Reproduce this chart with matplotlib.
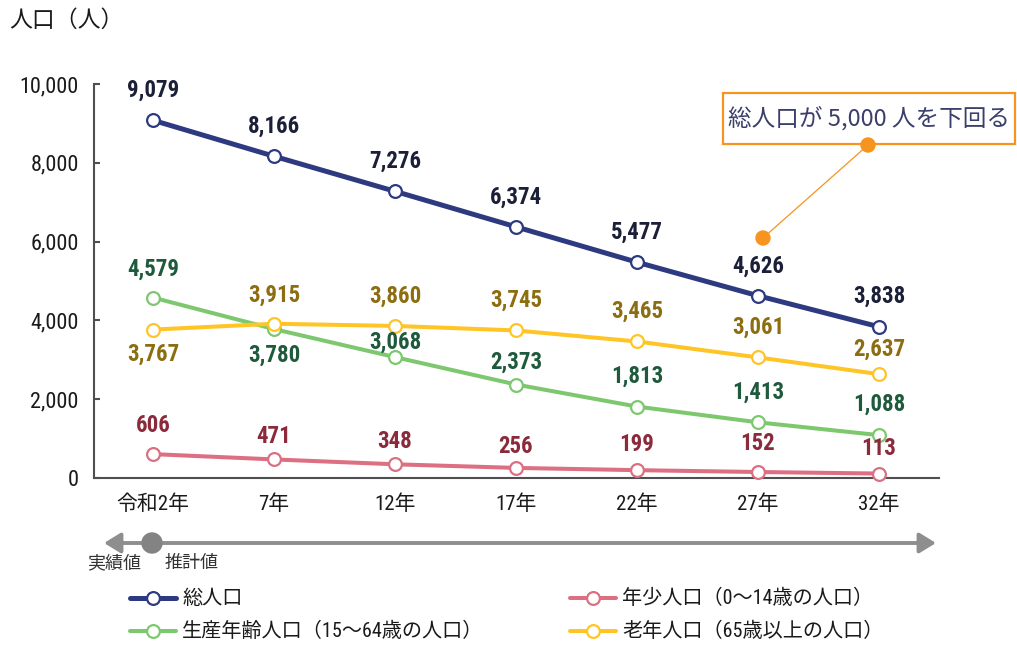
import matplotlib
matplotlib.use("Agg")
import matplotlib.pyplot as plt
from matplotlib.patches import Rectangle, Circle, FancyArrowPatch

# ---------------- data ----------------
categories = ['令和2年', '7年', '12年', '17年', '22年', '27年', '32年']
total = [9079, 8166, 7276, 6374, 5477, 4626, 3838]
working = [4579, 3780, 3068, 2373, 1813, 1413, 1088]
young = [606, 471, 348, 256, 199, 152, 113]
elderly = [3767, 3915, 3860, 3745, 3465, 3061, 2637]
yticks = [0, 2000, 4000, 6000, 8000, 10000]

series_names = ['総人口', '生産年齢人口（15～64歳の人口）', '年少人口（0～14歳の人口）', '老年人口（65歳以上の人口）']

# label vertical offsets (pixels, +up)
off_total = [30, 30, 30, 30, 30, 29, 31]
off_working = [28, -26, 15, 22, 30, 30, 31]
off_young = [29, 23, 23, 21, 26, 29, 25]
off_elderly = [-25, 28, 30, 30, 30, 30, 25]

NAVY, NAVY_T = '#2D3A80', '#1B1F38'
GREEN, GREEN_T = '#7DC86F', '#1F5A3C'
PINK, PINK_T = '#DC6F82', '#8A2A3A'
YEL, YEL_T = '#FFC526', '#8C6D10'
ORANGE = '#F7941D'

FAM = ['Roboto Condensed', 'Noto Sans CJK JP', 'DejaVu Sans']
CJK = ['Noto Sans CJK JP', 'DejaVu Sans']
plt.rcParams['font.family'] = FAM

W, H = 1017, 646
fig = plt.figure(figsize=(W / 100, H / 100), dpi=100)
ax = fig.add_axes([94 / W, (H - 478) / H, 845 / W, 394 / H])

x = list(range(len(categories)))
series = [
    (young, PINK, PINK_T, 2.9, off_young),
    (working, GREEN, GREEN_T, 2.9, off_working),
    (elderly, YEL, YEL_T, 2.9, off_elderly),
    (total, NAVY, NAVY_T, 3.6, off_total),
]
for z, (vals, c, tc, lw, offs) in enumerate(series):
    ax.plot(x, vals, color=c, lw=lw, marker='o', ms=9.2, mfc='white', mec=c,
            mew=1.6, zorder=3 + z, clip_on=False, solid_capstyle='round')
    for xi, v, o in zip(x, vals, offs):
        ax.annotate(f'{v:,}', (xi, v), xytext=(0, o), textcoords='offset pixels',
                    ha='center', va='center', fontsize=16.5, fontweight='bold',
                    color=tc, family=FAM, zorder=10)

ax.set_xlim(-0.488, 6.496)
ax.set_ylim(0, 10000)
ax.set_yticks(yticks)
ax.set_yticklabels([f'{t:,}' for t in yticks])
ax.set_xticks(x)
ax.set_xticklabels(categories)
for s in ['top', 'right']:
    ax.spines[s].set_visible(False)
for s in ['left', 'bottom']:
    ax.spines[s].set_color('#4f4f4f')
    ax.spines[s].set_linewidth(1.5)
ax.tick_params(axis='y', direction='in', length=4.5, width=1.5, color='#4f4f4f',
               labelsize=16, pad=11, labelcolor='#1a1a1a')
ax.tick_params(axis='x', length=0, labelsize=15, pad=12, labelcolor='#1a1a1a')
for lab in ax.get_xticklabels() + ax.get_yticklabels():
    lab.set_family(FAM)

# ---------------- overlay in figure pixels ----------------
ov = fig.add_axes([0, 0, 1, 1], zorder=20)
ov.set_xlim(0, W)
ov.set_ylim(H, 0)
ov.set_axis_off()

ov.text(9, 20, '人口（人）', fontsize=16.5, family=CJK, ha='left', va='center', color='#1a1a1a')

# annotation box
ov.add_patch(Rectangle((723, 93), 292, 51, fill=True, facecolor='white',
                       edgecolor=ORANGE, lw=1.6))
ov.text(869, 118.5, '総人口が 5,000 人を下回る', fontsize=17, family=CJK,
        ha='center', va='center', color='#3A3F6B')
ov.plot([763, 868], [238, 145], color=ORANGE, lw=0.9)
ov.add_patch(Circle((868, 145), 7, color=ORANGE, zorder=5))
ov.add_patch(Circle((763, 238), 7, color=ORANGE, zorder=5))

# timeline arrow
ov.add_patch(FancyArrowPatch((104, 543), (936, 543), arrowstyle='<|-|>,head_length=0.9,head_width=0.55',
                             mutation_scale=11, color='#8E8E8E', lw=2.8,
                             shrinkA=0, shrinkB=0))
ov.add_patch(Circle((152, 543), 10, color='#838383', zorder=6))
ov.text(114, 563, '実績値', fontsize=13, family=CJK, ha='center', va='center', color='#333333')
ov.text(192, 563, '推計値', fontsize=13, family=CJK, ha='center', va='center', color='#333333')

# legend
leg_items = [
    (series_names[0], NAVY, 130, 598, 3.6),
    (series_names[1], GREEN, 130, 631, 2.9),
    (series_names[2], PINK, 570, 598, 2.9),
    (series_names[3], YEL, 570, 631, 2.9),
]
for name, c, lx, ly, lw in leg_items:
    ov.plot([lx, lx + 46], [ly, ly], color=c, lw=lw, solid_capstyle='round')
    ov.plot([lx + 23], [ly], marker='o', ms=9.2, mfc='white', mec=c, mew=1.6)
    ov.text(lx + 52, ly, name, fontsize=14.5, family=FAM, ha='left', va='center', color='#1a1a1a')

fig.savefig('out.png', dpi=100)
